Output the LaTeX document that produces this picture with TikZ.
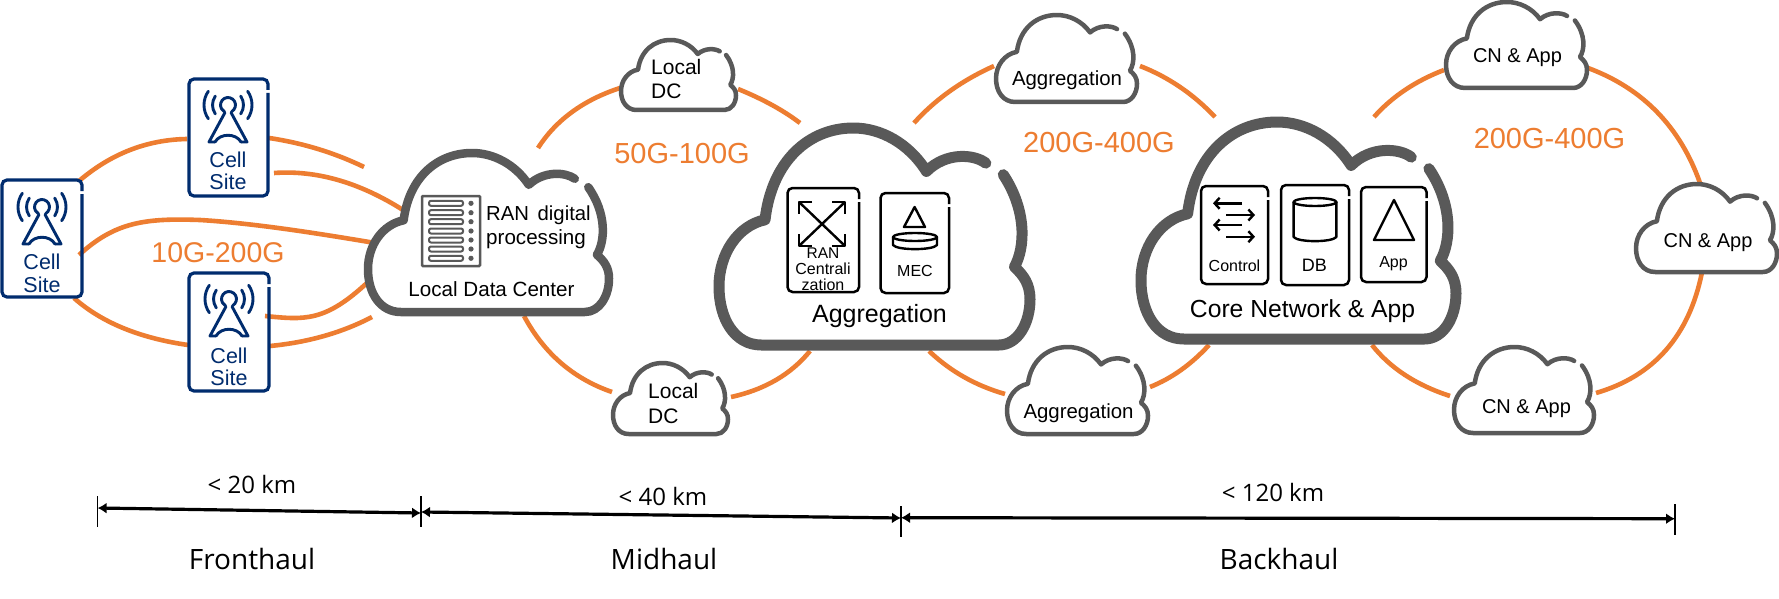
\documentclass[tikz,border=0pt]{standalone}
\usepackage{fontspec}
\setmainfont{Liberation Sans}
\newfontfamily\dimfont{Open Sans}
\usetikzlibrary{calc,arrows.meta}
\definecolor{cgray}{HTML}{595959}
\definecolor{cnavy}{HTML}{002C6E}
\definecolor{corange}{HTML}{ED7D31}
\tikzset{
  txt/.style={inner sep=0pt,anchor=base,font=\fontsize{#1}{#1}\selectfont},
  txtl/.style={inner sep=0pt,anchor=base west,font=\fontsize{#1}{#1}\selectfont},
  ctxt/.style={inner sep=0pt,anchor=base,text=cnavy,font=\fontsize{21.5}{21.5}\selectfont},
  otxt/.style={inner sep=0pt,anchor=base,text=corange,font=\fontsize{#1}{#1}\selectfont},
  dtxt/.style={inner sep=0pt,anchor=base,font=\dimfont\fontsize{#1}{#1}\selectfont},
  linkline/.style={draw=corange,line width=4.6pt},
  icon/.style={draw=black,line width=2.4pt,line join=round},
  dimline/.style={draw=black,line width=3.2pt,{Latex[length=9pt,width=11pt]}-{Latex[length=9pt,width=11pt]}},
  tickline/.style={draw=black,line width=1.2pt},
  ghost/.style={inner sep=0pt,outer sep=0pt}
}
% cloud: name, x0,y0,x1,y1, line width
\newcommand\cloudat[6]{%
  \pgfmathsetmacro\cw{#4-#2}\pgfmathsetmacro\ch{#5-#3}%
  \pgfmathsetmacro\cx{(#4+#2)/2}\pgfmathsetmacro\cy{(#5+#3)/2}%
  \node[ghost,minimum width=\cw pt,minimum height=\ch pt] (#1) at (\cx,\cy) {};
  \begin{scope}[shift={(#2,#3)},x=\cw pt,y=-\ch pt]
    \def\cloudpath{(.858,.162) .. controls (.82,.12) and (.73,.11) .. (.667,.2)
      .. controls (.61,.07) and (.52,0) .. (.432,0)
      .. controls (.29,0) and (.17,.15) .. (.148,.423)
      .. controls (.06,.45) and (0,.58) .. (0,.73)
      .. controls (0,.88) and (.05,1) .. (.136,1)
      -- (.90,1)
      .. controls (.96,1) and (1,.9) .. (1,.79)
      .. controls (1,.72) and (.98,.68) .. (.95,.64)
      .. controls (.985,.55) and (.99,.38) .. (.914,.215)}
    \fill[white] \cloudpath -- cycle;
    \draw[cgray,line width=#6pt,line cap=round,line join=round] \cloudpath;
  \end{scope}}
% orange link: name, start, through, end (a parabola through the middle point)
\newcommand\orangelink[4]{%
  \coordinate (#1a) at (#2);\coordinate (#1v) at (#3);\coordinate (#1b) at (#4);
  \draw[linkline] (#1a) .. controls ($1.3333*(#1v)-0.3333*(#1b)$) and ($1.3333*(#1v)-0.3333*(#1a)$) .. (#1b);}
% box with a small gap in its right edge: name,x0,y0,x1,y1,colour,width
\newcommand\gapbox[7]{%
  \pgfmathsetmacro\cw{#4-#2}\pgfmathsetmacro\ch{#5-#3}%
  \pgfmathsetmacro\cx{(#4+#2)/2}\pgfmathsetmacro\cy{(#5+#3)/2}%
  \pgfmathsetmacro\ga{#3+14}\pgfmathsetmacro\gb{#3+11}%
  \node[ghost,minimum width=\cw pt,minimum height=\ch pt] (#1) at (\cx,\cy) {};
  \draw[#6,line width=#7pt,rounded corners=5pt] (#4,\ga) -- (#4,#5) -- (#2,#5) -- (#2,#3) -- (#4,#3) -- (#4,\gb);}
\newcommand\antenna[2]{%
  \begin{scope}[shift={(#1,#2)},y=1pt,cnavy,line width=2.9pt,line cap=round,line join=round]
    \draw (-60:7.5pt) arc[start angle=-60,end angle=240,radius=7.5pt];
    \foreach \r in {15.5,24}{
      \draw (-35:\r pt) arc[start angle=-35,end angle=35,radius=\r pt];
      \draw (145:\r pt) arc[start angle=145,end angle=215,radius=\r pt];}
    \draw (-3,-7.5) -- (-19,-37) -- (-13,-37);
    \draw (3,-7.5) -- (19,-37) -- (13,-37);
    \draw (-13,-37) .. controls (-8,-28) and (8,-28) .. (13,-37);
  \end{scope}}
\begin{document}
\begin{tikzpicture}[x=1pt,y=-1pt]
\useasboundingbox (0,0) rectangle (1779,599);
\fill[white] (0,0) rectangle (1779,599);

% orange links
\orangelink{la}{79,181}{130,150}{187,139}
\orangelink{lb}{269,138}{318,149}{364,167}
\orangelink{lc}{274,173}{338,180}{403,210}
\coordinate (ldS) at (79,255);\coordinate (ldE) at (375,243);
\draw[linkline] (ldS) .. controls (115,222) and (145,218) .. (200,220) .. controls (250,223) and (310,232) .. (ldE);
\coordinate (leS) at (265,316);\coordinate (leE) at (368,282);
\draw[linkline] (leS) .. controls (305,320) and (325,322) .. (leE);
\orangelink{lf}{270,346}{324,336}{372,317}
\orangelink{lg}{74,298}{123,328}{188,345}
\orangelink{lh}{538,148}{572,112}{620,88}
\orangelink{li}{738,89}{772,105}{800,123}
\orangelink{lj}{524,316}{561,363}{612,392}
\orangelink{lk}{731,397}{776,380}{810,351}
\orangelink{ll}{994,66}{950,91}{914,123}
\orangelink{lm}{1140,66}{1180,87}{1215,117}
\orangelink{ln}{929,351}{964,377}{1005,394}
\orangelink{lo}{1150,387}{1181,370}{1209,345}
\orangelink{lp}{1374,117}{1405,90}{1444,70}
\orangelink{lq}{1588,68}{1657,112}{1700,183}
\orangelink{lr}{1702,272}{1666,350}{1596,393}
\orangelink{ls}{1372,345}{1405,375}{1450,396}

% clouds
\cloudat{ldc}{368}{153}{609}{312}{8.5}
\cloudat{bigagg}{719}{128}{1030}{345}{11}
\cloudat{core}{1141}{122}{1456}{339}{11}
\cloudat{dctop}{621}{40}{736}{110}{4.5}
\cloudat{dcbot}{613}{363}{728}{434}{4.5}
\cloudat{aggtop}{996}{15}{1137}{102}{4.5}
\cloudat{aggbot}{1007}{347}{1148}{434}{4.5}
\cloudat{cntop}{1446}{2}{1587}{88}{4.5}
\cloudat{cnright}{1636}{184}{1777}{272}{4.5}
\cloudat{cnbot}{1454}{347}{1594}{433}{4.5}

% cell sites
\gapbox{cellL}{2}{180}{82}{297}{cnavy}{3.2}
\gapbox{cellT}{189}{79}{268}{196}{cnavy}{3.2}
\gapbox{cellB}{189}{273}{269}{391}{cnavy}{3.2}
\antenna{42}{207}
\antenna{228}{105}
\antenna{229}{299}
\node[ctxt] (cellLa) at (42,269) {Cell};
\node[ctxt] (cellLb) at (42,292) {Site};
\node[ctxt] (cellTa) at (228,167.5) {Cell};
\node[ctxt] (cellTb) at (228,189.5) {Site};
\node[ctxt] (cellBa) at (229,363) {Cell};
\node[ctxt] (cellBb) at (229,385) {Site};

% bandwidth labels
\node[otxt=28.5] (bw1) at (218,262) {10G-200G};
\node[otxt=29] (bw2) at (682,163) {50G-100G};
\node[otxt=29] (bw3) at (1099,153) {200G-400G};
\node[otxt=29] (bw4) at (1549.5,149) {200G-400G};

% local data centre
\draw[cgray,line width=2.5pt,rounded corners=1pt] (422,196) rectangle (480,266);
\foreach \yy in {203.3,212.7,221.7,231,240,249,258.3}{
  \draw[cgray,line width=2pt,rounded corners=2pt] (429,\yy-2.5) rectangle (463,\yy+2.5);
  \fill[cgray] (471,\yy) circle[radius=2.6pt];}
\node[txtl=20.3] (ran1) at (486,220) {RAN\hspace{3pt} digital};
\node[txtl=20.6] (ran2) at (486,244) {processing};
\node[txt=20.6] (ldclabel) at (491.5,296) {Local Data Center};

% small cloud labels
\node[txtl=21] (dct1) at (651,75) {Local};
\node[txtl=21] (dct2) at (651,99) {DC};
\node[txtl=21] (dcb1) at (648,398) {Local};
\node[txtl=21] (dcb2) at (648,423) {DC};
\node[txt=20.4] (aggt) at (1067,86) {Aggregation};
\node[txt=20.4] (aggb) at (1078.5,418) {Aggregation};
\node[txt=20] (cnt) at (1517.5,63) {CN \& App};
\node[txt=20] (cnr) at (1708,247) {CN \& App};
\node[txt=20] (cnb) at (1526.5,413) {CN \& App};

% aggregation cloud content
\gapbox{ranbox}{787.5}{188}{859}{292}{black}{2.5}
\gapbox{mecbox}{880.5}{193}{949}{293}{black}{2.5}
\draw[icon] (799,202) -- (845,246) (845,202) -- (799,246);
\draw[icon] (812,202) -- (799,202) -- (799,214);
\draw[icon] (832,202) -- (845,202) -- (845,214);
\draw[icon] (799,234) -- (799,246) -- (812,246);
\draw[icon] (845,234) -- (845,246) -- (832,246);
\draw[icon] (914.6,207) -- (904,227) -- (925,227) -- cycle;
\draw[icon] (915,237) ellipse[x radius=22pt,y radius=4pt];
\draw[icon] (893,237) -- (893,245) .. controls (897,250.5) and (933,250.5) .. (937,245) -- (937,237);
\node[txt=15.5] (ran3) at (823,258) {RAN};
\node[txt=16] (ran4) at (823,274) {Centrali};
\node[txt=16] (ran5) at (823,290) {zation};
\node[txt=16] (mec) at (915,276) {MEC};
\node[txt=25] (agglabel) at (879.5,322) {Aggregation};

% core cloud content
\gapbox{ctlbox}{1201}{186}{1268}{284}{black}{2.5}
\gapbox{dbbox}{1281}{185}{1349}{285}{black}{2.5}
\gapbox{appbox}{1361}{187}{1426.5}{282}{black}{2.5}
\begin{scope}[line width=2.4pt,>={Straight Barb[length=5pt,width=11pt]}]
\draw[->] (1242,203.3) -- (1213,203.3);
\draw[->] (1226,215) -- (1255,215);
\draw[->] (1242,225) -- (1213,225);
\draw[->] (1226,236.7) -- (1255,236.7);
\end{scope}
\draw[icon] (1315,202) ellipse[x radius=21.4pt,y radius=4pt];
\draw[icon] (1293.6,202) -- (1293.6,237) .. controls (1298,242.5) and (1332,242.5) .. (1336.4,237) -- (1336.4,202);
\draw[icon] (1394,200) -- (1374,240) -- (1414,240) -- cycle;
\node[txt=16] (ctl) at (1234.5,271) {Control};
\node[txt=18] (db) at (1314.4,271) {DB};
\node[txt=16] (app) at (1393.5,267) {App};
\node[txt=24.7] (corelabel) at (1302.5,317) {Core Network \& App};

% distance scale
\coordinate (t1a) at (97.6,496);\coordinate (t1b) at (97.6,527);
\coordinate (t2a) at (421,496);\coordinate (t2b) at (421,527);
\coordinate (t3a) at (901,506);\coordinate (t3b) at (901,537);
\coordinate (t4a) at (1675,504);\coordinate (t4b) at (1675,535);
\draw[tickline] (t1a) -- (t1b);
\draw[tickline] (t2a) -- (t2b);
\draw[tickline] (t3a) -- (t3b);
\draw[tickline] (t4a) -- (t4b);
\coordinate (d1a) at (97.6,508);\coordinate (d1b) at (421,513);
\coordinate (d2a) at (421,512);\coordinate (d2b) at (901,518);
\coordinate (d3a) at (901,517.7);\coordinate (d3b) at (1675,518.7);
\draw[dimline] (d1a) -- (d1b);
\draw[dimline] (d2a) -- (d2b);
\draw[dimline] (d3a) -- (d3b);
\node[dtxt=24] (km1) at (252,493) {< 20 km};
\node[dtxt=24] (km2) at (663,505) {< 40 km};
\node[dtxt=24] (km3) at (1273,501) {< 120 km};
\node[dtxt=28] (fh) at (252,569) {Fronthaul};
\node[dtxt=28] (mh) at (664,569) {Midhaul};
\node[dtxt=28] (bh) at (1279,569) {Backhaul};
\end{tikzpicture}
\end{document}
